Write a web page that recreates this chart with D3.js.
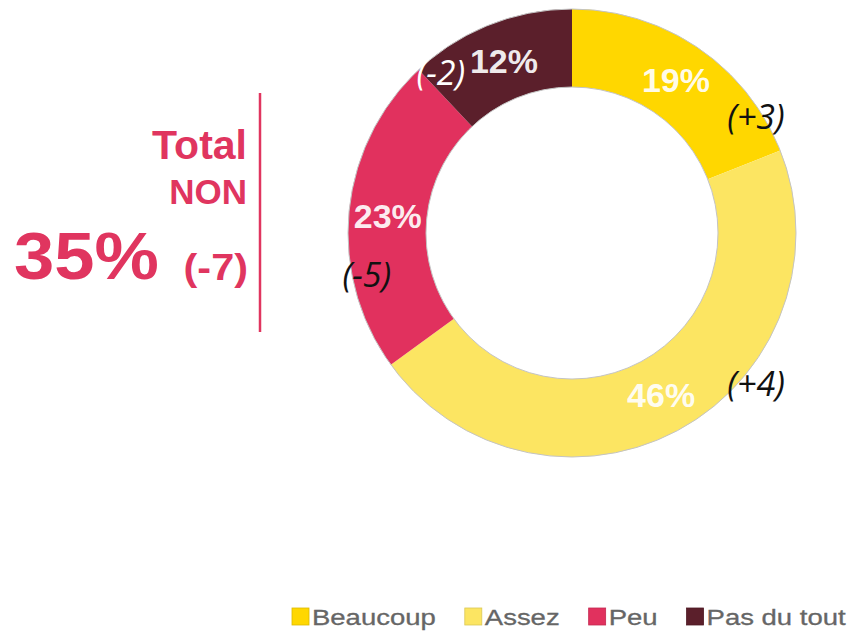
<!DOCTYPE html>
<html>
<head>
<meta charset="utf-8">
<script src="https://cdn.jsdelivr.net/npm/d3@7"></script>
<style>
  body { margin: 0; background: #fff; }
  svg { display: block; font-family: "Liberation Sans", Arial, sans-serif; }
</style>
</head>
<body>
<svg class="donut" width="854" height="631"></svg>
<script>
// data
const categories = ["Beaucoup", "Assez", "Peu", "Pas du tout"];
const values = [19, 46, 23, 12];
const changes = ["(+3)", "(+4)", "(-5)", "(-2)"];
const totalLabel = ["Total", "NON"];
const totalValue = 35;
const totalChange = "(-7)";

// styles / layout
const colors = ["#FFD700", "#FCE562", "#E1315E", "#5B1F2B"];
const changeColors = ["#111", "#111", "#111", "#fff"];
const changeOffsets = [[80, 37], [95, -11], [-21, 60], [-63, 12]];
const pink = "#E0355F";

let svg = d3.select(".donut");
let cx = 572, cy = 233;
let rOut = 224, rIn = 146;

let data = categories.map(function(c, i) {
  return { name: c, value: values[i], change: changes[i], i: i };
});

let pie = d3.pie().sort(null).value(function(d) { return d.value; });
let arc = d3.arc().innerRadius(rIn).outerRadius(rOut);

let g = svg.append("g").attr("transform", "translate(" + cx + "," + cy + ")");

let arcs = pie(data);

g.selectAll("path.slice")
  .data(arcs)
  .enter().append("path")
    .attr("class", "slice")
    .attr("d", arc)
    .attr("fill", function(d) { return colors[d.data.i]; });

// faint outline of the ring
[rOut, rIn].forEach(function(r) {
  g.append("circle")
    .attr("r", r)
    .attr("fill", "none")
    .attr("stroke", "#c4c4c4")
    .attr("stroke-width", 1);
});

g.selectAll("text.pct")
  .data(arcs)
  .enter().append("text")
    .attr("class", "pct")
    .attr("text-anchor", "middle")
    .attr("x", function(d) { return arc.centroid(d)[0]; })
    .attr("y", function(d) { return arc.centroid(d)[1]; })
    .attr("dy", "0.35em")
    .attr("font-size", 34)
    .attr("font-weight", "bold")
    .attr("fill", "#fff")
    .attr("fill-opacity", 0.92)
    .text(function(d) { return d.data.value + "%"; });

g.selectAll("text.change")
  .data(arcs)
  .enter().append("text")
    .attr("class", "change")
    .attr("text-anchor", "middle")
    .attr("x", function(d) { return arc.centroid(d)[0] + changeOffsets[d.data.i][0]; })
    .attr("y", function(d) { return arc.centroid(d)[1] + changeOffsets[d.data.i][1]; })
    .attr("dy", "0.35em")
    .attr("font-family", "'Open Sans', sans-serif")
    .attr("font-style", "italic")
    .attr("font-size", 34)
    .attr("fill", function(d) { return changeColors[d.data.i]; })
    .text(function(d) { return d.data.change; });

// total block on the left
let tb = svg.append("g").attr("fill", pink).attr("font-weight", "bold");

tb.append("text")
  .attr("text-anchor", "end")
  .attr("x", 247).attr("y", 159)
  .attr("font-size", 41)
  .text(totalLabel[0]);

tb.append("text")
  .attr("text-anchor", "end")
  .attr("x", 247).attr("y", 204)
  .attr("font-size", 35)
  .text(totalLabel[1]);

tb.append("text")
  .attr("transform", "translate(14,279) scale(1.08,1)")
  .attr("font-size", 67)
  .text(totalValue + "%");

tb.append("text")
  .attr("text-anchor", "end")
  .attr("transform", "translate(248,280) scale(1.12,1)")
  .attr("font-size", 37)
  .text(totalChange);

svg.append("line")
  .attr("x1", 260).attr("x2", 260)
  .attr("y1", 93).attr("y2", 332)
  .attr("stroke", pink)
  .attr("stroke-width", 2.5);

// legend
let lx = 292;
let legend = svg.append("g");
data.forEach(function(d) {
  legend.append("rect")
    .attr("x", lx).attr("y", 608)
    .attr("width", 17).attr("height", 17)
    .attr("fill", colors[d.i])
    .attr("stroke", d3.color(colors[d.i]).darker(0.4))
    .attr("stroke-width", 0.8);
  let t = legend.append("text")
    .attr("transform", "translate(" + (lx + 20) + ",625) scale(1.25,1)")
    .attr("font-size", 22)
    .attr("fill", "#666")
    .attr("stroke", "#666")
    .attr("stroke-width", 0.3)
    .text(d.name);
  lx += 20 + t.node().getComputedTextLength() * 1.25 + 29;
});
</script>
</body>
</html>
